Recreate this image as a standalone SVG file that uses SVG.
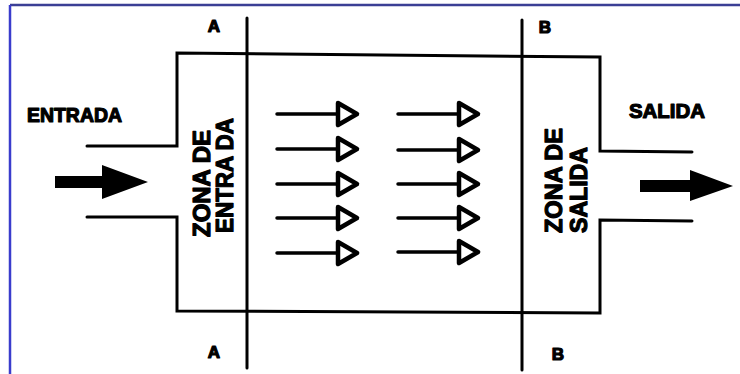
<svg xmlns="http://www.w3.org/2000/svg" width="740" height="374" viewBox="0 0 740 374">
<style>
.w{fill:none;stroke:#000;stroke-width:3;stroke-linejoin:miter;stroke-linecap:round}
.sa{fill:none;stroke:#000;stroke-width:3.5;stroke-linecap:round;stroke-linejoin:round}
.sh{fill:none;stroke:#000;stroke-width:4.5;stroke-linejoin:round}
.t{font-family:"Liberation Sans",Arial,sans-serif;font-weight:bold;fill:#000;stroke:#000;stroke-width:1.2;stroke-linejoin:round}
.lbl{font-size:20px}
.z{font-size:23px}
</style>
<defs>
<g id="sarrow">
<line class="sa" x1="0" y1="0" x2="60" y2="0"/>
<path class="sh" d="M61,-11 L80,0 L61,11 Z"/>
</g>
</defs>
<rect width="740" height="374" fill="#fff"/>
<g id="frame">
<line x1="10" y1="5" x2="740" y2="5" stroke="#3b3f95" stroke-width="2.5"/>
<line x1="10" y1="5" x2="10" y2="374" stroke="#3a3ccc" stroke-width="2.5"/>
</g>
<g id="vessel">
<path class="w" d="M87,146 L177,146 L177,53 L600,57 L600,151 L692,152"/>
<path class="w" d="M87,217 L177,217 L177,311 L600,313 L600,220 L692,221"/>
</g>
<g id="section-A">
<line class="w" x1="247" y1="18" x2="247" y2="368"/>
<text class="t" x="214" y="32" font-size="17" text-anchor="middle">A</text>
<text class="t" x="214" y="358" font-size="17" text-anchor="middle">A</text>
</g>
<g id="section-B">
<line class="w" x1="522" y1="20" x2="522" y2="370"/>
<text class="t" x="545" y="33" font-size="17" text-anchor="middle">B</text>
<text class="t" x="558" y="360" font-size="17" text-anchor="middle">B</text>
</g>
<g id="entrada">
<text class="t lbl" x="27" y="122" textLength="95" lengthAdjust="spacingAndGlyphs">ENTRADA</text>
<path d="M55,176 L102,176 L102,165 L148,182 L102,199 L102,188 L55,188 Z" fill="#000"/>
</g>
<g id="salida">
<text class="t lbl" x="629" y="118" textLength="76" lengthAdjust="spacingAndGlyphs">SALIDA</text>
<path d="M640,180 L690,180 L690,170 L733,186 L690,201 L690,192 L640,192 Z" fill="#000"/>
</g>
<g id="zona-entrada">
<text class="t z" transform="translate(210,237) rotate(-90)" textLength="107" lengthAdjust="spacingAndGlyphs">ZONA DE</text>
<text class="t z" transform="translate(233,233) rotate(-90)" textLength="115" lengthAdjust="spacingAndGlyphs">ENTRA DA</text>
</g>
<g id="zona-salida">
<text class="t z" transform="translate(562,233) rotate(-90)" textLength="105" lengthAdjust="spacingAndGlyphs">ZONA DE</text>
<text class="t z" transform="translate(587,233) rotate(-90)" textLength="86" lengthAdjust="spacingAndGlyphs">SALIDA</text>
</g>
<g id="flow">
<use href="#sarrow" x="277" y="114"/>
<use href="#sarrow" x="277" y="149"/>
<use href="#sarrow" x="277" y="184"/>
<use href="#sarrow" x="277" y="218"/>
<use href="#sarrow" x="277" y="253"/>
<use href="#sarrow" x="398" y="114"/>
<use href="#sarrow" x="398" y="150"/>
<use href="#sarrow" x="398" y="184"/>
<use href="#sarrow" x="398" y="218"/>
<use href="#sarrow" x="398" y="252"/>
</g>
</svg>
